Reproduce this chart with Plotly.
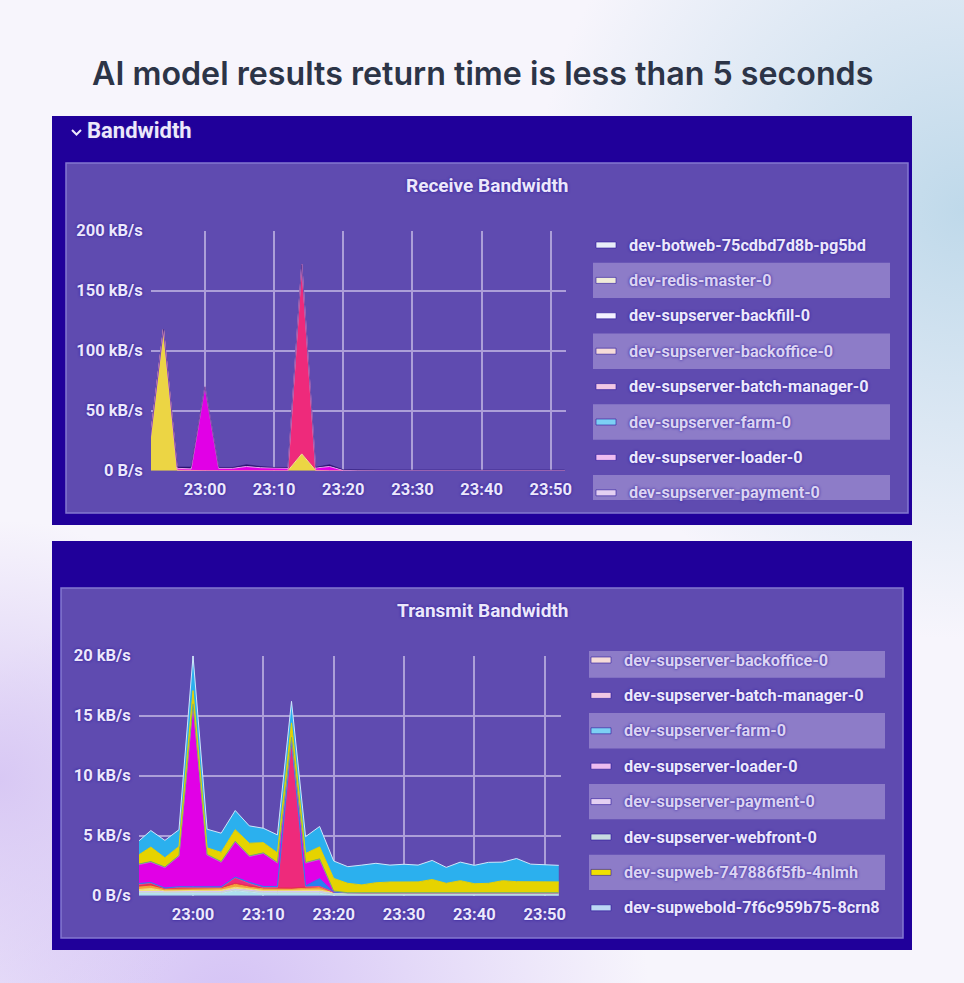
import base64
import plotly.graph_objects as go

W, H = 964, 983

TITLE = "AI model results return time is less than 5 seconds"
SECTION = "Bandwidth"
RX_TITLE = "Receive Bandwidth"
TX_TITLE = "Transmit Bandwidth"

TIMES = ["22:52","22:54","22:56","22:58","23:00","23:02","23:04","23:06","23:08","23:10","23:12",
         "23:14","23:16","23:18","23:20","23:22","23:24","23:26","23:28","23:30","23:32","23:34",
         "23:36","23:38","23:40","23:42","23:44","23:46","23:48","23:50","23:52"]
X_TICKS = ["23:00","23:10","23:20","23:30","23:40","23:50"]
RX_TICKVALS = [0, 50, 100, 150, 200]
RX_TICKTEXT = ["0 B/s", "50 kB/s", "100 kB/s", "150 kB/s", "200 kB/s"]
TX_TICKVALS = [0, 5, 10, 15, 20]
TX_TICKTEXT = ["0 B/s", "5 kB/s", "10 kB/s", "15 kB/s", "20 kB/s"]

RX_LEGEND = ["dev-botweb-75cdbd7d8b-pg5bd","dev-redis-master-0","dev-supserver-backfill-0",
             "dev-supserver-backoffice-0","dev-supserver-batch-manager-0","dev-supserver-farm-0",
             "dev-supserver-loader-0","dev-supserver-payment-0"]
RX_SWATCH = ["#e8eef8","#f0ecd8","#f4f2ff","#f6dcd8","#f2c8e4","#7cd0f4","#eebcf0","#e4d0f2"]
TX_LEGEND = ["dev-supserver-backoffice-0","dev-supserver-batch-manager-0","dev-supserver-farm-0",
             "dev-supserver-loader-0","dev-supserver-payment-0","dev-supserver-webfront-0",
             "dev-supweb-747886f5fb-4nlmh","dev-supwebold-7f6c959b75-8crn8"]
TX_SWATCH = ["#f6dcd8","#f2c8e4","#7cd0f4","#eebcf0","#e4d0f2","#c8dce0","#f0e000","#bcd8f4"]

# Receive stack, bottom to top (kB/s)
rx_yellow  = [22,118,0.5,0,0,0,0,0,0,0,0,14,0.3,0,0,0,0,0,0,0,0,0,0,0,0,0,0,0,0,0,0]
rx_crimson = [0,0,0,0,0,0,0,0,0,0,0,158,0,0,0,0,0,0,0,0,0,0,0,0,0,0,0,0,0,0,0]
rx_magenta = [0,0,1.5,1.5,70,2,2,3.5,2.5,2,2,0,2,3.5,0.3,0,0,0,0,0,0,0,0,0,0,0,0,0,0,0,0]
rx_navy    = [0,0,1,1.5,0,0.7,0.7,1.5,1,0.7,0.7,0,0.5,1.5,0.5,0.5,0.5,0.5,0.5,0.5,0.5,0.5,0.5,0.5,0.5,0.5,0.5,0.5,0.5,0.5,0.5]

# Transmit stack, bottom to top (kB/s)
tx_paleblue = [.2,.2,.15,.18,.2,.2,.2,.4,.32,.2,.2,.18,.2,.2,.05,.05,.05,.05,.05,.05,.05,.05,.05,.05,.05,.05,.05,.05,.05,.05,.05]
tx_palegreen= [.1,.1,.1,.1,.1,.1,.1,.1,.1,.1,.1,.1,.1,.1,.15,.15,.15,.15,.15,.15,.15,.15,.15,.15,.15,.15,.15,.15,.15,.15,.15]
tx_lilac    = [.05,.05,.05,.05,.05,.05,.05,.05,.05,.05,.05,.05,.05,.05,.05,.05,.05,.05,.05,.05,.05,.05,.05,.05,.05,.05,.05,.05,.05,.05,.05]
tx_paleyel  = [.15,.25,.1,.1,.12,.12,.12,.15,.1,.1,.1,.1,.12,.12,.02,0,0,0,0,0,0,0,0,0,0,0,0,0,0,0,0]
tx_orange   = [.2,.2,.12,.12,.12,.12,.12,.25,.15,.12,.12,.12,.15,.2,.02,0,0,0,0,0,0,0,0,0,0,0,0,0,0,0,0]
tx_red      = [.15,.2,.1,.15,.1,.1,.1,.1,.1,.1,.1,.1,.1,.1,0,0,0,0,0,0,0,0,0,0,0,0,0,0,0,0,0]
tx_crimson  = [.05,.05,0,0,0,0,0,.45,.2,0,0,12.3,0,0,0,0,0,0,0,0,0,0,0,0,0,0,0,0,0,0,0]
tx_blue     = [.1,.05,.02,.05,.05,.05,.05,.05,.1,.1,.1,0,.1,.65,0,0,0,0,0,0,0,0,0,0,0,0,0,0,0,0,0]
tx_magenta  = [1.55,1.7,1.7,2.55,15.2,2.65,2.05,2.94,2.15,2.75,1.95,.2,1.9,1.6,.1,0,0,0,0,0,0,0,0,0,0,0,0,0,0,0,0]
tx_green    = [.05,.05,.05,.05,.05,.05,.05,.05,.05,.05,.05,.05,.05,.05,0,0,0,0,0,0,0,0,0,0,0,0,0,0,0,0,0]
tx_yellow   = [.7,1.2,.77,.75,1.1,.55,.77,.96,1.05,.85,.8,1.2,.75,1.0,1.05,.78,.65,.83,.89,.88,.9,1.1,.78,1.0,.75,.78,1.0,.92,.9,.9,.9]
tx_sky      = [1.11,1.38,1.45,1.4,2.9,1.55,1.6,1.6,1.45,1.2,1.5,1.8,1.4,1.7,1.45,1.39,1.65,1.62,1.41,1.49,1.4,1.59,1.33,1.55,1.53,1.75,1.55,1.93,1.48,1.43,1.38]

RX_STACK = [("yellow", rx_yellow, "#ecd544", "#f2e58a"), ("crimson", rx_crimson, "#ee2a7b", "#f58ab0"),
            ("magenta", rx_magenta, "#e100e6", "#f0a0f0"), ("navy", rx_navy, "#2a1470", "rgba(42,20,112,0.6)")]
TX_STACK = [("pale blue", tx_paleblue, "#aee0ee", "#c4e8f4"), ("pale green", tx_palegreen, "#b8d4c8", "#c8e0d8"),
            ("lilac", tx_lilac, "#c8b8e8", "#d8c8f0"), ("pale yellow", tx_paleyel, "#f2e27a", "#f2e27a"),
            ("orange", tx_orange, "#f5a23a", "#f5a23a"), ("red", tx_red, "#ea3050", "#ea3050"),
            ("crimson", tx_crimson, "#ee2a7b", "#ee4a8b"), ("blue", tx_blue, "#2a7ff0", "#2a7ff0"),
            ("magenta", tx_magenta, "#e100e6", "#e848ec"), ("green", tx_green, "#6fb06f", "#6fb06f"),
            ("yellow", tx_yellow, "#e6d300", "#e6d300"), ("sky", tx_sky, "#2bb0ee", "#cfe6fa")]

BG_SVG = f'''<svg xmlns="http://www.w3.org/2000/svg" width="{W}" height="{H}">
<defs>
<radialGradient id="a" gradientUnits="userSpaceOnUse" cx="964" cy="210" r="430"><stop offset="0" stop-color="#bfd9ea"/><stop offset="1" stop-color="#bfd9ea" stop-opacity="0"/></radialGradient>
<radialGradient id="b" gradientUnits="userSpaceOnUse" cx="230" cy="1010" r="420"><stop offset="0" stop-color="#d4c2f5"/><stop offset="1" stop-color="#d4c2f5" stop-opacity="0"/></radialGradient>
<radialGradient id="c" gradientUnits="userSpaceOnUse" cx="0" cy="780" r="260"><stop offset="0" stop-color="#d8c8f4"/><stop offset="1" stop-color="#d8c8f4" stop-opacity="0"/></radialGradient>
</defs>
<rect width="{W}" height="{H}" fill="#f7f5fc"/>
<rect width="{W}" height="{H}" fill="url(#a)"/><rect width="{W}" height="{H}" fill="url(#b)"/><rect width="{W}" height="{H}" fill="url(#c)"/>
</svg>'''
BG_URI = "data:image/svg+xml;base64," + base64.b64encode(BG_SVG.encode()).decode()

DATE = "2023-01-01 "
x_vals = [DATE + t + ":00" for t in TIMES]
x_ticks = [DATE + t + ":00" for t in X_TICKS]


def fx(px): return px / W
def fy(py): return 1 - py / H


fig = go.Figure()

for name, vals, fill, line in RX_STACK:
    fig.add_trace(go.Scatter(x=x_vals, y=vals, name=name, mode="lines", stackgroup="rx",
                             fillcolor=fill, line=dict(color=line, width=1),
                             xaxis="x", yaxis="y", showlegend=False))
for name, vals, fill, line in TX_STACK:
    fig.add_trace(go.Scatter(x=x_vals, y=vals, name=name, mode="lines", stackgroup="tx",
                             fillcolor=fill, line=dict(color=line, width=1),
                             xaxis="x2", yaxis="y2", showlegend=False))

TEXT_SHADOW = "0px 0px 3px #2c1a9a"
tick_font = dict(family="Roboto", size=16.5, weight=700, color="#ece8fb", shadow=TEXT_SHADOW)
GRID = "#ac9fd8"


def xaxis(left, right, start, end):
    return dict(domain=[fx(left), fx(right)], type="date", range=[DATE + start, DATE + end],
                tickvals=x_ticks, ticktext=X_TICKS, showgrid=True, gridcolor=GRID, gridwidth=2,
                zeroline=False, showline=False, ticks="outside", ticklen=3, tickcolor="rgba(0,0,0,0)",
                tickfont=tick_font)


def yaxis(top, bottom, anchor, top_val, vals, text):
    return dict(domain=[fy(bottom), fy(top)], range=[0, top_val], anchor=anchor, tickvals=vals, ticktext=text,
                showgrid=True, gridcolor=GRID, gridwidth=2, zeroline=False, showline=False,
                ticks="outside", ticklen=4, tickcolor="rgba(0,0,0,0)", tickfont=tick_font)


shapes, annos = [], []


def rect(x0, y0, x1, y1, fill, line=None, lw=0):
    shapes.append(dict(type="rect", xref="paper", yref="paper", x0=fx(x0), x1=fx(x1), y0=fy(y0), y1=fy(y1),
                       fillcolor=fill, line=dict(color=line or fill, width=lw), layer="below"))


def text(x, y, s, size, color="#ece8fb", anchor="left", family="Roboto", weight=700, shadow=TEXT_SHADOW):
    annos.append(dict(xref="paper", yref="paper", x=fx(x), y=fy(y), text=s, showarrow=False, xanchor=anchor,
                      yanchor="middle", font=dict(family=family, size=size, color=color, weight=weight, shadow=shadow)))


NAVY, PANEL, BORDER, STRIPE = "#20009a", "#5f4bb0", "#8478d0", "#8d7cc8"

rect(52, 116, 912, 525, NAVY)
rect(52, 541, 912, 950, NAVY)
rect(66, 163, 908, 513, PANEL, BORDER, 1.5)
rect(61, 588, 903, 938, PANEL, BORDER, 1.5)

text(482, 74, TITLE, 32.2, "#2c3447", "center", "Inter", 600, "none")
text(85, 130.5, SECTION, 22, "#ece8fb")
text(487, 185.5, RX_TITLE, 19, "#ece8fb", "center")
text(482, 610, TX_TITLE, 19, "#ece8fb", "center")
shapes.append(dict(type="path", xref="paper", yref="paper", layer="above",
                   path=f"M {fx(72)} {fy(130)} L {fx(76.5)} {fy(134.5)} L {fx(81)} {fy(130)}",
                   line=dict(color="#ece8fb", width=2)))


def legend(labels, swatches, x_box, x_box_end, x_swatch, x_text, y0, stripe_first, clip_top, clip_bottom):
    step = 35.4
    for i, (label, colour) in enumerate(zip(labels, swatches)):
        yc = y0 + i * step
        striped = (i % 2 == 1) != stripe_first
        if striped:
            rect(x_box, max(yc - 17.7, clip_top), x_box_end, min(yc + 17.7, clip_bottom), STRIPE)
        shapes.append(dict(type="rect", xref="paper", yref="paper", x0=fx(x_swatch), x1=fx(x_swatch + 20),
                           y0=fy(yc + 3), y1=fy(yc - 3), fillcolor=colour, line=dict(color="#2c1a9a", width=0.6)))
        text(x_text, yc, label, 16.3, "#dcd4f2" if striped else "#ece8fb")


legend(RX_LEGEND, RX_SWATCH, 593, 890, 596, 627, 245, False, 160, 500)
legend(TX_LEGEND, TX_SWATCH, 589, 885, 591, 622, 660, True, 651, 940)

fig.update_layout(
    width=W, height=H, autosize=False,
    margin=dict(l=0, r=0, t=0, b=0, pad=0, autoexpand=False),
    paper_bgcolor="#f7f5fc", plot_bgcolor="rgba(0,0,0,0)",
    showlegend=False, shapes=shapes, annotations=annos,
    images=[dict(source=BG_URI, xref="paper", yref="paper", x=0, y=1, sizex=1, sizey=1,
                 xanchor="left", yanchor="top", sizing="stretch", layer="below")],
    xaxis=xaxis(151, 566, "22:52:12", "23:52:12"),
    yaxis=yaxis(230.7, 470.7, "x", 200, RX_TICKVALS, RX_TICKTEXT),
    xaxis2=dict(xaxis(139, 561, "22:52:19", "23:52:19"), anchor="y2"),
    yaxis2=yaxis(655.7, 895.7, "x2", 20, TX_TICKVALS, TX_TICKTEXT),
)

fig.write_html("out.html", config={"displayModeBar": False},
               post_script="document.body.style.margin='0';document.documentElement.style.overflow='hidden';")
